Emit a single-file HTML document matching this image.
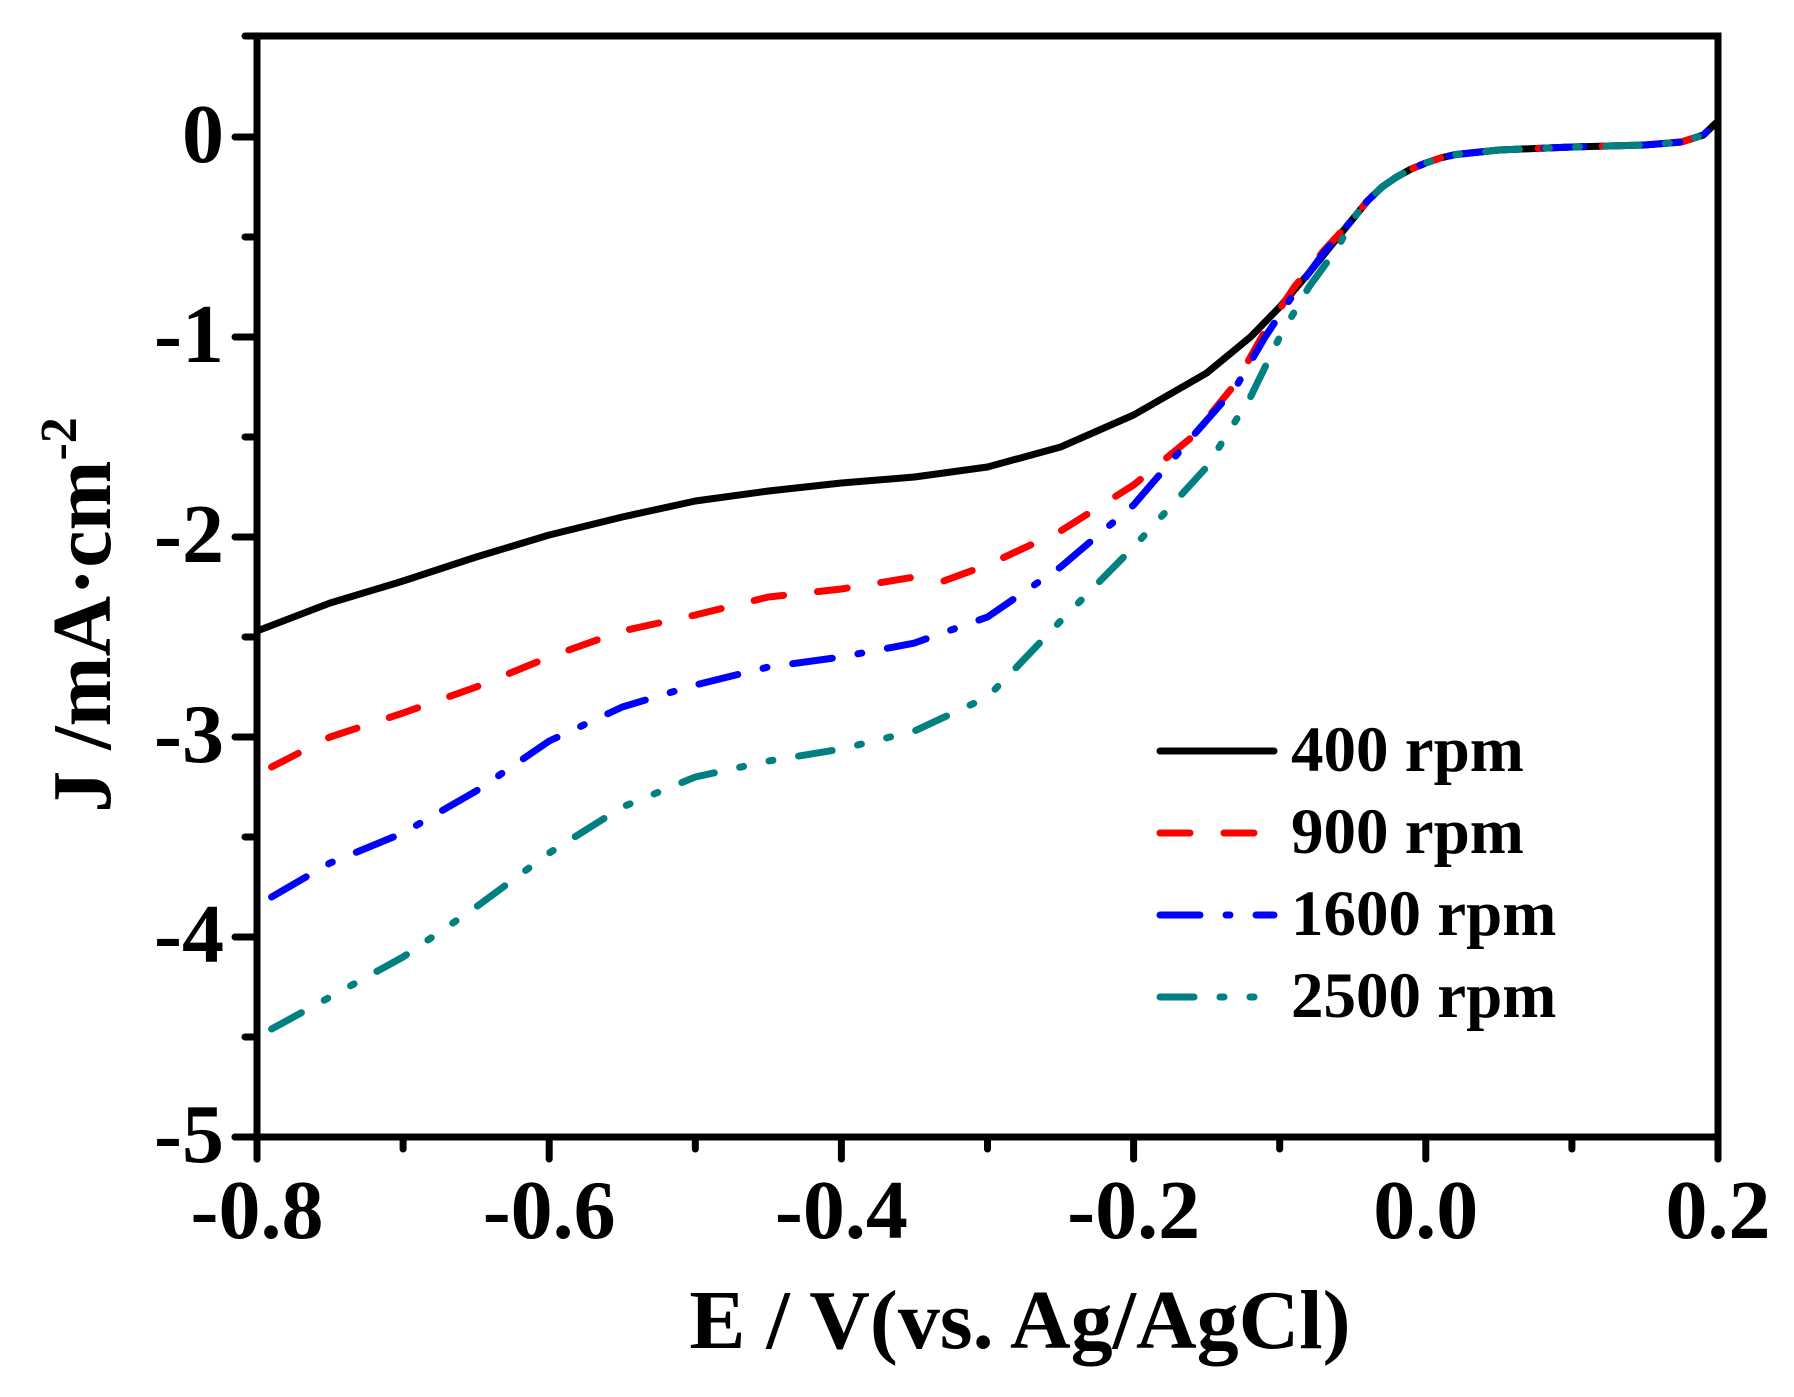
<!DOCTYPE html>
<html><head><meta charset="utf-8"><style>
html,body{margin:0;padding:0;background:#fff;}
svg{display:block;font-family:"Liberation Serif",serif;font-weight:bold;}
</style></head><body>
<svg id="chart" width="1794" height="1397" viewBox="0 0 1794 1397" xmlns="http://www.w3.org/2000/svg">
<g id="plot"></g>
</svg>
<script>
const xTicks=[-0.8,-0.6,-0.4,-0.2,0.0,0.2];
const xTickLabels=["-0.8","-0.6","-0.4","-0.2","0.0","0.2"];
const xMinor=[-0.7,-0.5,-0.3,-0.1,0.1];
const yTicks=[0,-1,-2,-3,-4,-5];
const yTickLabels=["0","-1","-2","-3","-4","-5"];
const yMinor=[-0.5,-1.5,-2.5,-3.5,-4.5];
const seriesNames=["400 rpm","900 rpm","1600 rpm","2500 rpm"];
const tail=[[-0.05,-0.41],[-0.04,-0.32],[-0.03,-0.25],[-0.02,-0.2],[-0.01,-0.16],[0,-0.13],[0.01,-0.105],[0.02,-0.088],[0.05,-0.065],[0.1,-0.05],[0.15,-0.04],[0.175,-0.025],[0.19,0.01],[0.2,0.08]];
const s400=[[-0.8,-2.47],[-0.75,-2.33],[-0.7,-2.22],[-0.65,-2.1],[-0.6,-1.99],[-0.55,-1.9],[-0.5,-1.82],[-0.45,-1.77],[-0.4,-1.73],[-0.35,-1.7],[-0.3,-1.65],[-0.25,-1.55],[-0.2,-1.39],[-0.15,-1.18],[-0.12,-1.0],[-0.1,-0.85],[-0.08,-0.68],[-0.06,-0.5]];
const s900=[[-0.79,-3.15],[-0.75,-3.0],[-0.7,-2.88],[-0.65,-2.75],[-0.6,-2.6],[-0.55,-2.47],[-0.5,-2.39],[-0.45,-2.3],[-0.4,-2.26],[-0.35,-2.2],[-0.33,-2.22],[-0.3,-2.14],[-0.25,-1.97],[-0.2,-1.74],[-0.16,-1.5],[-0.13,-1.23],[-0.11,-0.97],[-0.09,-0.75],[-0.07,-0.57]];
const s1600=[[-0.79,-3.8],[-0.75,-3.63],[-0.7,-3.48],[-0.65,-3.27],[-0.6,-3.02],[-0.55,-2.85],[-0.5,-2.74],[-0.45,-2.65],[-0.4,-2.6],[-0.35,-2.53],[-0.3,-2.4],[-0.25,-2.15],[-0.2,-1.84],[-0.16,-1.5],[-0.13,-1.25],[-0.11,-1.0],[-0.09,-0.78],[-0.07,-0.58]];
const s2500=[[-0.79,-4.46],[-0.75,-4.3],[-0.7,-4.1],[-0.65,-3.85],[-0.6,-3.58],[-0.55,-3.35],[-0.5,-3.2],[-0.45,-3.12],[-0.4,-3.06],[-0.35,-2.97],[-0.3,-2.8],[-0.28,-2.65],[-0.25,-2.42],[-0.2,-2.05],[-0.15,-1.65],[-0.12,-1.3],[-0.1,-1.0],[-0.08,-0.75],[-0.06,-0.55]];

const L=257,R=1718,Y0=137,UNIT=200,TOP=36,BOT=1137;
const xs=v=>L+(v+0.8)/1.0*(R-L);
const ys=v=>Y0-v*UNIT;
const NS="http://www.w3.org/2000/svg";
const g=document.getElementById('plot');
function mk(tag,attrs,parent){const e=document.createElementNS(NS,tag);for(const k in attrs)e.setAttribute(k,attrs[k]);(parent||g).appendChild(e);return e;}

const styles=[
 {color:"#000000",dash:"none"},
 {color:"#ff0000",dash:"30 34"},
 {color:"#0000ff",dash:"40 26 4 26"},
 {color:"#008080",dash:"34 26 4 26 4 26"}
];
const names=["series-400-rpm","series-900-rpm","series-1600-rpm","series-2500-rpm"];
const allSeries=[s400,s900,s1600,s2500];
allSeries.forEach((s,i)=>{
  const pts=s.concat(tail.filter(p=>p[0]>s[s.length-1][0]));
  let d="";
  pts.forEach((p,j)=>{d+=(j?"L":"M")+xs(p[0]).toFixed(1)+","+ys(p[1]).toFixed(1);});
  const p=mk('path',{d:d,fill:"none",stroke:styles[i].color,"stroke-width":7,"stroke-linecap":"round","stroke-linejoin":"round","stroke-dasharray":styles[i].dash});
  
  
});

const frame=mk('path',{d:`M${L-12},${TOP}H${R}V${BOT+22}M${L},${TOP}V${BOT+22}M${L-22},${BOT}H${R}`,fill:"none",stroke:"#000","stroke-width":7,"stroke-linecap":"round"});



xTicks.forEach((v,i)=>{
  const t=mk('line',{x1:xs(v),x2:xs(v),y1:BOT,y2:BOT+22,stroke:"#000","stroke-width":7,"stroke-linecap":"round"});
  
  
  const tx=mk('text',{x:xs(v),y:1238,"text-anchor":"middle","font-size":84});
  tx.textContent=xTickLabels[i];
  
  
});
xMinor.forEach(v=>{
  const t=mk('line',{x1:xs(v),x2:xs(v),y1:BOT,y2:BOT+12,stroke:"#000","stroke-width":7,"stroke-linecap":"round"});
  
  
});
yTicks.forEach((v,i)=>{
  const t=mk('line',{x1:L-22,x2:L,y1:ys(v),y2:ys(v),stroke:"#000","stroke-width":7,"stroke-linecap":"round"});
  
  
  const tx=mk('text',{x:224,y:ys(v)+25,"text-anchor":"end","font-size":84});
  tx.textContent=yTickLabels[i];
  
  
});
yMinor.forEach(v=>{
  const t=mk('line',{x1:L-12,x2:L,y1:ys(v),y2:ys(v),stroke:"#000","stroke-width":7,"stroke-linecap":"round"});
  
  
});

seriesNames.forEach((n,i)=>{
  const y=751+i*82;
  const ln=mk('line',{x1:1160,x2:1274,y1:y,y2:y,stroke:styles[i].color,"stroke-width":7,"stroke-linecap":"round","stroke-dasharray":styles[i].dash});
  
  
  const tx=mk('text',{x:1291,y:y+20,"font-size":65});
  tx.textContent=n;
  
  
});

const xt=mk('text',{x:1020,y:1348,"text-anchor":"middle","font-size":84});
xt.textContent="E / V(vs. Ag/AgCl)";


const yt=mk('text',{x:0,y:0,"text-anchor":"middle","font-size":84,transform:"translate(110,615) rotate(-90)"});


const t1=mk('tspan',{},yt);t1.textContent="J /mA·cm";
const t2=mk('tspan',{dy:-34,"font-size":52},yt);t2.textContent="-2";
</script>
</body></html>
